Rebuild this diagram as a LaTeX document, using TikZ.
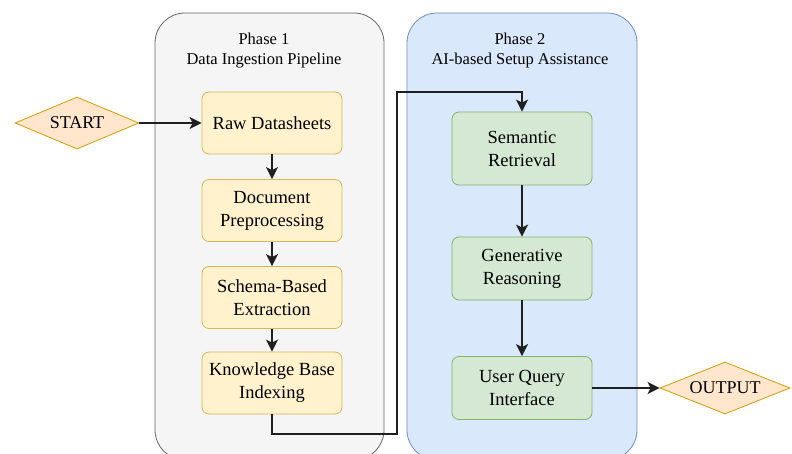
\documentclass[tikz,border=0pt]{standalone}
\usepackage{fontspec}
\setmainfont{Liberation Serif}
\usetikzlibrary{arrows.meta,shapes.geometric}
\definecolor{ylwfill}{HTML}{FFF2CC}
\definecolor{ylwline}{HTML}{D6B656}
\definecolor{grnfill}{HTML}{D5E8D4}
\definecolor{grnline}{HTML}{82B366}
\definecolor{blufill}{HTML}{DAE8FC}
\definecolor{bluline}{HTML}{6C8EBF}
\definecolor{gryfill}{HTML}{F5F5F5}
\definecolor{gryline}{HTML}{666666}
\definecolor{orgfill}{HTML}{FFE6CC}
\definecolor{orgline}{HTML}{D79B00}
\tikzset{
  container/.style={rounded corners=30pt, line width=0.8pt},
  ttl/.style={font=\fontsize{16.5}{20}\selectfont, align=center, inner sep=0pt},
  ybox/.style={draw=ylwline, fill=ylwfill, rounded corners=7pt, line width=0.8pt,
    minimum width=140pt, minimum height=62pt, align=center,
    font=\fontsize{18.5}{23}\selectfont, inner sep=0pt},
  gbox/.style={ybox, draw=grnline, fill=grnfill},
  term/.style={diamond, aspect=2.4, draw=orgline, fill=orgfill, line width=0.8pt,
    inner sep=0pt, font=\fontsize{18}{22}\selectfont},
  conn/.style={line width=2pt, draw=black!88, -{Stealth[length=12pt,width=12pt,inset=3pt]}}
}
\begin{document}
\begin{tikzpicture}[x=1pt,y=-1pt]
\useasboundingbox (0,0) rectangle (792,454);
\clip (0,0) rectangle (792,454);
\fill[white] (0,0) rectangle (792,454);
% containers
\draw[container, draw=gryline, fill=gryfill] (155,13) rectangle (384,460);
\draw[container, draw=bluline, fill=blufill] (407,13) rectangle (637,460);
\node[ttl] (t1) at (264,51) {Phase 1\\Data Ingestion Pipeline};
\node[ttl] (t2) at (520,51) {Phase 2\\AI-based Setup Assistance};
% phase 1
\node[ybox] (raw) at (272,123) {Raw Datasheets};
\node[ybox] (doc) at (272,210.5) {Document\\Preprocessing};
\node[ybox] (sch) at (272,297.5) {Schema-Based\\Extraction};
\node[ybox] (kb) at (272,383) {Knowledge Base\\Indexing};
% phase 2
\node[gbox, minimum height=73pt] (sem) at (522,148.5) {Semantic\\Retrieval};
\node[gbox, minimum height=63pt] (gen) at (522,268.5) {Generative\\Reasoning};
\node[gbox, minimum height=63pt] (uqi) at (522,388) {User Query\\Interface};
% terminals
\node[term, minimum width=124pt, minimum height=52pt] (start) at (77,123) {START};
\node[term, minimum width=130pt, minimum height=52pt] (out) at (725,388) {OUTPUT};
\coordinate (c1) at (272,434);
\coordinate (c2) at (397,434);
\coordinate (c3) at (397,92);
\coordinate (c4) at (522,92);
% connectors
\draw[conn] (start) -- (raw);
\draw[conn] (raw) -- (doc);
\draw[conn] (doc) -- (sch);
\draw[conn] (sch) -- (kb);
\draw[conn] (kb.south) -- (c1) -- (c2) -- (c3) -- (c4) -- (sem.north);
\draw[conn] (sem) -- (gen);
\draw[conn] (gen) -- (uqi);
\draw[conn] (uqi) -- (out);
\end{tikzpicture}
\end{document}
